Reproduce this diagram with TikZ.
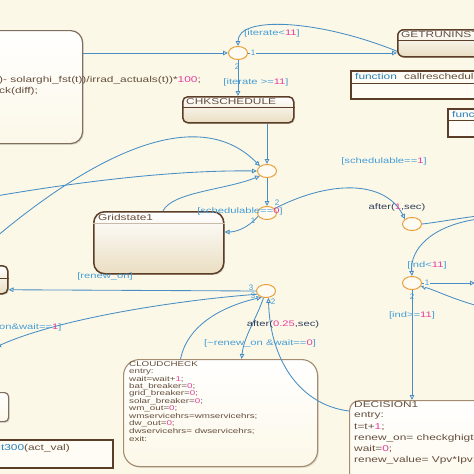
\documentclass[tikz,border=0pt]{standalone}
\usepackage{fontspec}
\setmainfont{Liberation Sans}
\usepackage{graphicx}
\usetikzlibrary{arrows.meta,shapes.geometric,shadows}

\definecolor{bgcol}{RGB}{252,248,232}
\definecolor{wire}{RGB}{72,142,196}
\definecolor{cond}{RGB}{70,158,214}
\definecolor{num}{RGB}{228,62,158}
\definecolor{brdark}{RGB}{92,62,40}
\definecolor{brlight}{RGB}{165,140,112}
\definecolor{brgray}{RGB}{128,110,95}
\definecolor{txtbr}{RGB}{100,78,60}
\definecolor{junc}{RGB}{232,160,60}
\definecolor{fncol}{RGB}{40,130,185}
\definecolor{aftcol}{RGB}{45,62,92}
\definecolor{beige}{RGB}{234,222,194}

\newcommand{\wtxt}[1]{\scalebox{1.4}[1]{#1}}
\newcommand{\nm}[1]{{\color{num}#1}}

\tikzset{
  chart/.style={rectangle, rounded corners=10pt, draw=brdark, line width=1.5pt,
    top color=white, bottom color=beige,
    drop shadow={opacity=0.25, shadow xshift=1.2pt, shadow yshift=-1.2pt}},
  softchart/.style={chart, draw=brlight, line width=1.1pt, bottom color=bgcol},
  fnbox/.style={rectangle, draw=brdark, line width=1.5pt, fill=white!55!bgcol,
    drop shadow={opacity=0.25, shadow xshift=1.2pt, shadow yshift=-1.2pt}},
  junct/.style={ellipse, draw=junc, line width=1pt, fill=white!50!bgcol,
    minimum width=19pt, minimum height=13pt, inner sep=0pt},
  trans/.style={draw=wire, line width=0.85pt, -{Triangle[open, length=5pt, width=4.6pt]}},
  lbl/.style={text=cond, inner sep=0pt, font=\fontsize{8}{8.5}\selectfont},
  title/.style={text=txtbr, anchor=west, inner sep=0pt, font=\fontsize{8.5}{9}\selectfont},
  cltext/.style={text=txtbr, anchor=west, inner sep=0pt, font=\fontsize{7}{7.5}\selectfont},
  dctext/.style={text=txtbr, anchor=west, inner sep=0pt, font=\fontsize{8.5}{9}\selectfont}
}

\begin{document}
\begin{tikzpicture}[x=1pt,y=-1pt]
\useasboundingbox (0,0) rectangle (474,474);
\clip (0,0) rectangle (474,474);
\fill[bgcol] (0,0) rectangle (474,474);

% states
\node[chart, draw=brgray, line width=1.2pt, rounded corners=12pt, bottom color=bgcol,
  minimum width=110pt, minimum height=113pt, anchor=north west] (solar) at (-28,30) {};
\node[chart, rounded corners=6pt, minimum width=100pt, minimum height=27pt, anchor=north west] (getrun) at (397,29) {};
\node[chart, rounded corners=5pt, minimum width=111pt, minimum height=26pt, anchor=north west] (chk) at (182,96) {};
\node[chart, rounded corners=11pt, minimum width=130pt, minimum height=62pt, anchor=north west] (grid) at (93,211) {};
\node[chart, rounded corners=5pt, minimum width=35pt, minimum height=28pt, anchor=north west] (renew) at (-28,265) {};
\node[chart, draw=brgray, line width=1.2pt, rounded corners=4pt, bottom color=bgcol,
  minimum width=36pt, minimum height=29pt, anchor=north west] (side) at (-28,392) {};
\node[softchart, rounded corners=16pt, minimum width=194pt, minimum height=107pt, anchor=north west] (cloud) at (123,359) {};
\node[softchart, rounded corners=10pt, minimum width=150pt, minimum height=100pt, anchor=north west] (decision) at (349,400) {};

% function boxes
\node[fnbox, minimum width=150pt, minimum height=28pt, anchor=north west] (callres) at (350,70) {};
\node[fnbox, minimum width=60pt, minimum height=28pt, anchor=north west] (resfn) at (447,108) {};
\node[fnbox, minimum width=140pt, minimum height=28pt, anchor=north west] (checkfn) at (-28,439) {};

\foreach \b/\d in {getrun/11, chk/11, callres/13, resfn/12, renew/13}
  \draw[brdark, line width=0.6pt] ([yshift=-\d pt]\b.north west) -- ([yshift=-\d pt]\b.north east);
\draw[brlight!60, line width=0.5pt] ([yshift=-12pt]grid.north west) -- ([yshift=-12pt]grid.north east);

% state texts
\node[title] at (-1,80) {\wtxt{)- solarghi\_fst(t))/irrad\_actuals(t))*\nm{100};}};
\node[title] at (-1,91) {\wtxt{ck(diff);}};
\node[title] at (401,35) {\wtxt{GETRUNINST}};
\node[title] at (186,101.5) {\wtxt{CHKSCHEDULE}};
\node[title] at (98,217) {\wtxt{Gridstate1}};
\node[title, text=fncol] at (355,76.5) {\wtxt{function}};
\node[title] at (404,76.5) {\wtxt{callreschedule}};
\node[title, text=fncol] at (452,114) {\wtxt{func}};
\node[title, anchor=east] at (70,448) {\wtxt{{\color{fncol}ghigt300}(act\_val)}};

\foreach \row [count=\i from 0] in {CLOUDCHECK,entry:,wait=wait+\nm{1};,bat\_breaker=\nm{0};,
    grid\_breaker=\nm{0};,solar\_breaker=\nm{0};,wm\_out=\nm{0};,wmservicehrs=wmservicehrs;,
    dw\_out=\nm{0};,dwservicehrs= dwservicehrs;,exit:}
  \node[cltext] at (129,{364+7.5*\i}) {\wtxt{\row}};

\foreach \row [count=\i from 0] in {DECISION1,entry:,t=t+\nm{1};,renew\_on= checkghigt3,
    wait=\nm{0};,renew\_value= Vpv*Ipv;}
  \node[dctext] at (354,{405+11*\i}) {\wtxt{\row}};

% junctions
\node[junct] (jA) at (238,53) {};
\node[junct] (jB) at (267,171) {};
\node[junct] (jC) at (267,213) {};
\node[junct] (jD) at (412,224) {};
\node[junct] (jE) at (412,283) {};
\node[junct] (jF) at (266,291) {};

\coordinate (inA) at (-4,196);
\coordinate (inB) at (-4,237);
\coordinate (outD) at (478,216);
\coordinate (inD) at (478,219);
\coordinate (outE) at (475,283);
\coordinate (inE) at (478,306);
\coordinate (outF) at (-4,347);

% transitions
\draw[trans] (solar.east |- jA) -- (jA.west);
\draw[trans] (jA.east) -- (getrun.west |- jA);
\draw[trans] ([yshift=-8pt]getrun.west) .. controls (320,20) and (238,15) .. (jA.north);
\draw[trans] (jA.south) -- (jA.south |- chk.north);
\draw[trans] (chk.south -| jB) -- (jB.north);
\draw[trans] (inA) .. controls (90,180) and (180,170) .. (jB.west);
\draw[trans] (inB) .. controls (100,150) and (200,105) .. (jB.north west);
\draw[trans] ([xshift=70pt]grid.north west) .. controls (172,192) and (225,190) .. (jB.south west);
\draw[trans] (jB.south) -- (jC.north);
\draw[trans] (jC.200) .. controls (248,228) and (236,232) .. ([yshift=-21pt]grid.north east);
\draw[trans] (jC.30) .. controls (330,180) and (385,180) .. (jD.north west);
\draw[wire, line width=0.85pt] (jD.east) .. controls (440,222) and (460,218) .. (outD);
\draw[trans] (inD) .. controls (430,226) and (410,250) .. (jE.north);
\draw[trans] (jE.east) -- (outE);
\draw[trans] (inE) .. controls (450,298) and (435,290) .. (jE.-20);
\draw[trans] (jE.south) -- (jE.south |- decision.north);
\draw[trans] (jF.west) -- ([yshift=-10pt]renew.east);
\draw[trans] (jF.200) .. controls (180,300) and (60,318) .. (outF);
\draw[trans] (jF.250) .. controls (255,322) and (244,336) .. ([xshift=21pt]cloud.north);
\draw[trans] ([xshift=-40pt]cloud.north) .. controls (188,322) and (228,305) .. (jF.235);
\draw[trans] ([yshift=-11pt]decision.north west) .. controls (300,405) and (270,360) .. (jF.290);

% labels
\node[lbl] at (272,33) {\wtxt{[iterate<\nm{11}]}};
\node[lbl, fill=bgcol, inner sep=1pt] at (253,53) {1};
\node[lbl] at (237,67) {2};
\node[lbl] at (256,82) {\wtxt{[iterate >=\nm{11}]}};
\node[lbl] at (384,161) {\wtxt{[schedulable==\nm{1}]}};
\node[lbl] at (240,211) {\wtxt{[schedulable==\nm{0}]}};
\node[lbl] at (277,203) {2};
\node[lbl] at (253,221) {1};
\node[lbl, text=aftcol] at (397,207) {\wtxt{after(\nm{1},sec)}};
\node[lbl] at (427,265) {\wtxt{[ind<\nm{11}]}};
\node[lbl, fill=bgcol, inner sep=1pt] at (427,283) {1};
\node[lbl] at (412,297) {2};
\node[lbl] at (412,315) {\wtxt{[ind>=\nm{11}]}};
\node[lbl] at (105,276) {\wtxt{[renew\_on]}};
\node[lbl, anchor=west] at (-1,327) {\wtxt{on\&wait==\nm{1}]}};
\node[lbl] at (251,288) {3};
\node[lbl] at (253,296) {3};
\node[lbl] at (273,302) {2};
\node[lbl, text=aftcol] at (283,324) {\wtxt{after(\nm{0.25},sec)}};
\node[lbl] at (260,343) {\wtxt{[\textasciitilde renew\_on \&wait==\nm{0}]}};
\end{tikzpicture}
\end{document}
